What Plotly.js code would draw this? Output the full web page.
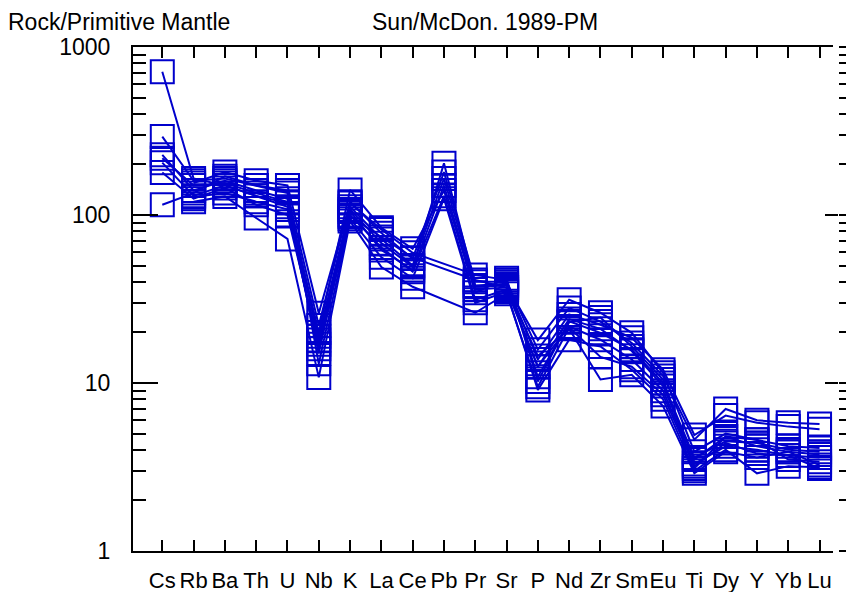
<!DOCTYPE html>
<html><head><meta charset="utf-8">
<script src="https://cdn.plot.ly/plotly-3.0.1.min.js"></script>
<style>html,body{margin:0;padding:0;background:#fff}#chart{width:846px;height:592px}</style>
</head><body><div id="chart"></div>
<script>
const elements = ['Cs','Rb','Ba','Th','U','Nb','K','La','Ce','Pb','Pr','Sr','P','Nd','Zr','Sm','Eu','Ti','Dy','Y','Yb','Lu'];
const sample1  = [713, 165, 150, 130, 112, 15, 105, 62, 47, 150, 36, 37, 12.5, 24, 21, 15.5, 9.6, 3.5, 4.8, 4.2, 3.9, 3.75];
const sample2  = [293, 160, 165, 150, 135, 22, 120, 78, 55, 180, 40, 40, 15.8, 28, 23.2, 17.3, 11, 4.6, 7.0, 6.0, 5.8, 5.7];
const sample3  = [228, 140, 160, 140, 125, 19, 112, 72, 50, 165, 38, 39, 13.8, 25.6, 22.2, 18.6, 12, 4.9, 6.4, 5.8, 5.5, 5.3];
const sample4  = [218, 150, 155, 135, 120, 18, 108, 68, 49, 203, 37.4, 38, 18, 31.3, 26.2, 19.9, 11.5, 3.9, 5.0, 4.6, 4.2, 4.1];
const sample5  = [205, 130, 150, 130, 118, 20, 141, 84, 63, 140, 34.5, 42, 10.2, 23.3, 19.9, 15.8, 10, 3.6, 4.5, 4.4, 4.0, 3.9];
const sample6  = [179, 125, 145, 115, 100, 17, 100, 64, 46, 130, 31.3, 36, 12.5, 21.7, 18.1, 13.8, 9, 3.3, 4.2, 4.0, 3.7, 3.6];
const sample7  = [115, 135, 170, 150, 140, 13, 95, 56, 42, 125, 30, 35, 9.1, 18.1, 16.5, 12, 8, 3.0, 4.0, 2.9, 3.2, 3.15];
const sample8  = [null, 155, 180, 160, 150, 26, 118, 82, 59.6, null, 44, 41, 10.9, 23, 24.5, 16.5, 10.5, 3.1, 4.8, 4.6, 3.5, 3.4];
const sample9  = [null, 128, 135, 120, 108, 16, 98, 74, 55.7, null, 41, 37, 14.5, 21, 10.5, 11.2, 7.3, 2.9, 3.9, 3.6, 3.9, 3.25];
const sample10 = [null, 120, 129, 96, 72, 10.8, 92, 49, 37.4, null, 26.2, 34, 9.5, 21.4, 14.3, 12.5, 8.5, 3.2, 4.4, 3.8, 3.7, 3.1];
const samples = [sample1, sample2, sample3, sample4, sample5, sample6, sample7, sample8, sample9, sample10];
const yTickVals = [1, 10, 100, 1000];
const yTickText = ['1', '10', '100', '1000'];

const BLUE = '#0000CC';
const FONT = '"Liberation Sans", Arial, sans-serif';
const FS = 23;

const traces = samples.map(v => ({
  x: elements, y: v, type: 'scatter', mode: 'lines+markers', connectgaps: true,
  line: {color: BLUE, width: 2},
  marker: {symbol: 'square-open', size: 23, color: BLUE, line: {width: 2, color: BLUE}},
  showlegend: false, hoverinfo: 'skip', cliponaxis: false
}));
// empty carriers for the right-hand tick axes
traces.push({x: elements, y: elements.map(() => null), yaxis: 'y2', mode: 'lines', showlegend: false, hoverinfo: 'skip'});
traces.push({x: elements, y: elements.map(() => null), yaxis: 'y3', mode: 'lines', showlegend: false, hoverinfo: 'skip'});

const logRange = [0, 3];
const layout = {
  width: 846, height: 592,
  margin: {l: 133, r: 8, t: 47, b: 41},
  paper_bgcolor: '#fff', plot_bgcolor: '#fff',
  font: {family: FONT, size: FS, color: '#000'},
  title: {text: 'Rock/Primitive Mantle', xref: 'container', yref: 'container', x: 8/846, xanchor: 'left', y: 1 - 22/592, yanchor: 'middle', font: {family: FONT, size: FS, color: '#000'}},
  annotations: [{text: 'Sun/McDon. 1989-PM', xref: 'paper', yref: 'paper', x: (370-133)/705, xanchor: 'left', y: 1 + 25/504, yanchor: 'middle', showarrow: false, font: {family: FONT, size: FS, color: '#000'}}],
  xaxis: {
    type: 'category', domain: [0, 700/705], range: [-0.936, 21.43],
    tickmode: 'array', tickvals: elements, ticktext: elements, tickangle: 0,
    showline: true, linecolor: '#000', linewidth: 2, mirror: 'ticks',
    ticks: 'inside', ticklen: 11, tickwidth: 2, tickcolor: '#000',
    showgrid: false, zeroline: false, ticklabelstandoff: 9,
    tickfont: {family: FONT, size: 22, color: '#000'}
  },
  yaxis: {
    type: 'log', range: logRange, tickmode: 'array', tickvals: yTickVals, ticktext: yTickText,
    showline: true, linecolor: '#000', linewidth: 2,
    ticks: 'inside', ticklen: 25, tickwidth: 2, tickcolor: '#000',
    minor: {ticks: 'inside', ticklen: 13, tickwidth: 2, tickcolor: '#000', dtick: 'D1', showgrid: false},
    showgrid: false, zeroline: false, ticklabelstandoff: 16,
    tickfont: {family: FONT, size: FS, color: '#000'}
  },
  yaxis2: {
    type: 'log', range: logRange, overlaying: 'y', anchor: 'free', position: 1, side: 'right',
    tickmode: 'array', tickvals: yTickVals, showticklabels: false, showline: false,
    ticks: 'outside', ticklen: 7, tickwidth: 2, tickcolor: '#000',
    minor: {ticks: 'outside', ticklen: 7, tickwidth: 2, tickcolor: '#000', dtick: 'D1', showgrid: false},
    showgrid: false, zeroline: false
  },
  yaxis3: {
    type: 'log', range: logRange, overlaying: 'y', anchor: 'free', position: 1, side: 'right',
    tickmode: 'array', tickvals: yTickVals, showticklabels: false, showline: false,
    ticks: 'inside', ticklen: 13, tickwidth: 2, tickcolor: '#000',
    showgrid: false, zeroline: false
  }
};
Plotly.newPlot('chart', traces, layout, {staticPlot: true});
</script></body></html>
